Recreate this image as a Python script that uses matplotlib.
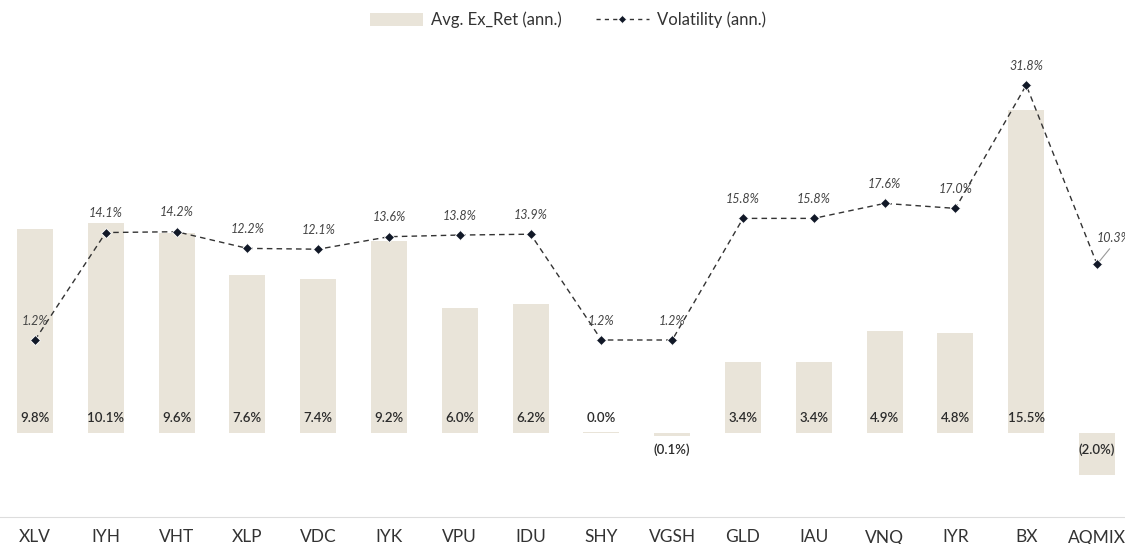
import matplotlib
matplotlib.use("Agg")
import matplotlib.pyplot as plt
from matplotlib.lines import Line2D
from matplotlib.patches import Patch

tickers = ["XLV", "IYH", "VHT", "XLP", "VDC", "IYK", "VPU", "IDU", "SHY", "VGSH",
           "GLD", "IAU", "VNQ", "IYR", "BX", "AQMIX"]
avg_ex_ret = [9.8, 10.1, 9.6, 7.6, 7.4, 9.2, 6.0, 6.2, 0.04, -0.14,
              3.4, 3.4, 4.9, 4.8, 15.5, -2.0]
volatility = [1.2, 14.1, 14.2, 12.2, 12.1, 13.6, 13.8, 13.9, 1.2, 1.2,
              15.8, 15.8, 17.6, 17.0, 31.8, 10.3]

plt.rcParams['font.family'] = ['Lato', 'DejaVu Sans']

W, H = 1125, 544
fig = plt.figure(figsize=(W / 100, H / 100), dpi=100)
top_px, bot_px = 40, 517
ax = fig.add_axes([0, 1 - bot_px / H, 1, (bot_px - top_px) / H])
x = list(range(len(tickers)))

# primary axis: zero at y=433 px, 20.84 px per %
ppp1 = 20.84
zero1 = 433
ax.set_ylim(-(bot_px - zero1) / ppp1, (zero1 - top_px) / ppp1)
ax.set_xlim(-0.494, 15.395)

bar_color = "#E9E4D9"
ax.bar(x, avg_ex_ret, width=0.51, color=bar_color, zorder=1)
for xi, v in zip(x, avg_ex_ret):
    if v >= 0:
        lbl = f"{v:.1f}%"
        ax.annotate(lbl, (xi, 0), xytext=(0, 11), textcoords="offset points",
                    ha="center", va="center", fontsize=9.5, fontweight="semibold",
                    color="#2b2b2b")
    else:
        lbl = f"({abs(v):.1f}%)"
        ax.annotate(lbl, (xi, 0), xytext=(0, -12), textcoords="offset points",
                    ha="center", va="center", fontsize=9.5, fontweight="semibold",
                    color="#2b2b2b")

# secondary axis: zero at y=350 px, 8.33 px per %
ax2 = ax.twinx()
ppp2 = 8.33
zero2 = 350
ax2.set_ylim(-(bot_px - zero2) / ppp2, (zero2 - top_px) / ppp2)
ax2.set_xlim(ax.get_xlim())
ax2.plot(x, volatility, linestyle=(0, (4, 3)), color="#333333", linewidth=1.0,
         marker="D", markersize=5, markerfacecolor="#111827",
         markeredgecolor="white", markeredgewidth=0.6, zorder=3)
ax2.axis("off")
for xi, v in zip(x, volatility):
    if tickers[xi] == "AQMIX":
        ax2.annotate(f"{v:.1f}%", (xi, v), xytext=(12, 19), textcoords="offset points",
                     ha="center", va="center", fontsize=9, style="italic", color="#444444",
                     arrowprops=dict(arrowstyle="-", color="#999999", lw=0.8,
                                     relpos=(0.5, 0.0), shrinkA=2, shrinkB=3))
    else:
        ax2.annotate(f"{v:.1f}%", (xi, v), xytext=(0, 14), textcoords="offset points",
                     ha="center", va="center", fontsize=9, style="italic", color="#444444")

ax.set_xticks(x)
ax.set_xticklabels(tickers, fontsize=12.5, color="#333333")
ax.tick_params(axis="x", length=0, pad=9)
ax.tick_params(axis="y", left=False, right=False, labelleft=False, labelright=False)
for s in ["top", "right", "left"]:
    ax.spines[s].set_visible(False)
ax.spines["bottom"].set_color("#dddddd")
ax.spines["bottom"].set_linewidth(0.8)

handles = [Patch(facecolor=bar_color, edgecolor="none"),
           Line2D([0], [0], linestyle=(0, (3, 3)), color="#333333", linewidth=1.0,
                  marker="D", markersize=4, markerfacecolor="#111827",
                  markeredgecolor="white", markeredgewidth=0.5)]
fig.legend(handles, ["Avg. Ex_Ret (ann.)", "Volatility (ann.)"],
           loc="center", bbox_to_anchor=(568 / W, 1 - 20 / H), ncol=2, frameon=False,
           fontsize=12, handlelength=3.2, handleheight=0.8, handletextpad=0.5,
           columnspacing=2.0, labelcolor="#333333")

fig.savefig("out.png", dpi=100)
